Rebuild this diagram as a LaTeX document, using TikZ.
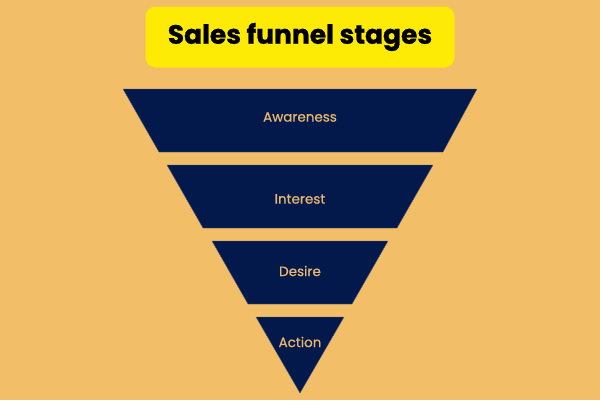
\documentclass[tikz,border=0pt]{standalone}
\usepackage{fontspec}
\setmainfont{Poppins}
\newfontfamily\stagefont[FakeBold=0.6]{Poppins}
\newfontfamily\titlefont[FakeBold=0.8]{Poppins Bold}
\definecolor{bgorange}{HTML}{F2BE68}
\definecolor{navy}{HTML}{03184B}
\definecolor{titleyellow}{HTML}{FDEB05}
\definecolor{tan}{HTML}{E9B86E}
\begin{document}
\begin{tikzpicture}[x=1pt, y=-1pt,
		stage/.style={fill=navy, draw=navy!70!white, line width=0.4pt},
		stagelabel/.style={text=tan, font=\stagefont\fontsize{13.5}{15}\selectfont}]
		\useasboundingbox[fill=bgorange] (0,0) rectangle (600,400);

		\node[fill=titleyellow, rounded corners=10pt, minimum width=309pt, minimum height=61pt, font=\titlefont\fontsize{26.5}{30}\selectfont] (title) at (300,37) {Sales funnel stages};

		\draw[stage] (123,89) -- (477,89) -- (443,152) -- (159,152) -- cycle;
		\draw[stage] (167,165) -- (433,165) -- (397,228) -- (203,228) -- cycle;
		\draw[stage] (212,241) -- (388,241) -- (352,304) -- (248,304) -- cycle;
		\draw[stage] (256,317) -- (344,317) -- (300,393) -- cycle;

		\node[stagelabel] (awareness) at (300,117) {Awareness};
		\node[stagelabel] (interest) at (300,199) {Interest};
		\node[stagelabel] (desire) at (300,271) {Desire};
		\node[stagelabel] (action) at (300,342) {Action};
	\end{tikzpicture}
\end{document}
